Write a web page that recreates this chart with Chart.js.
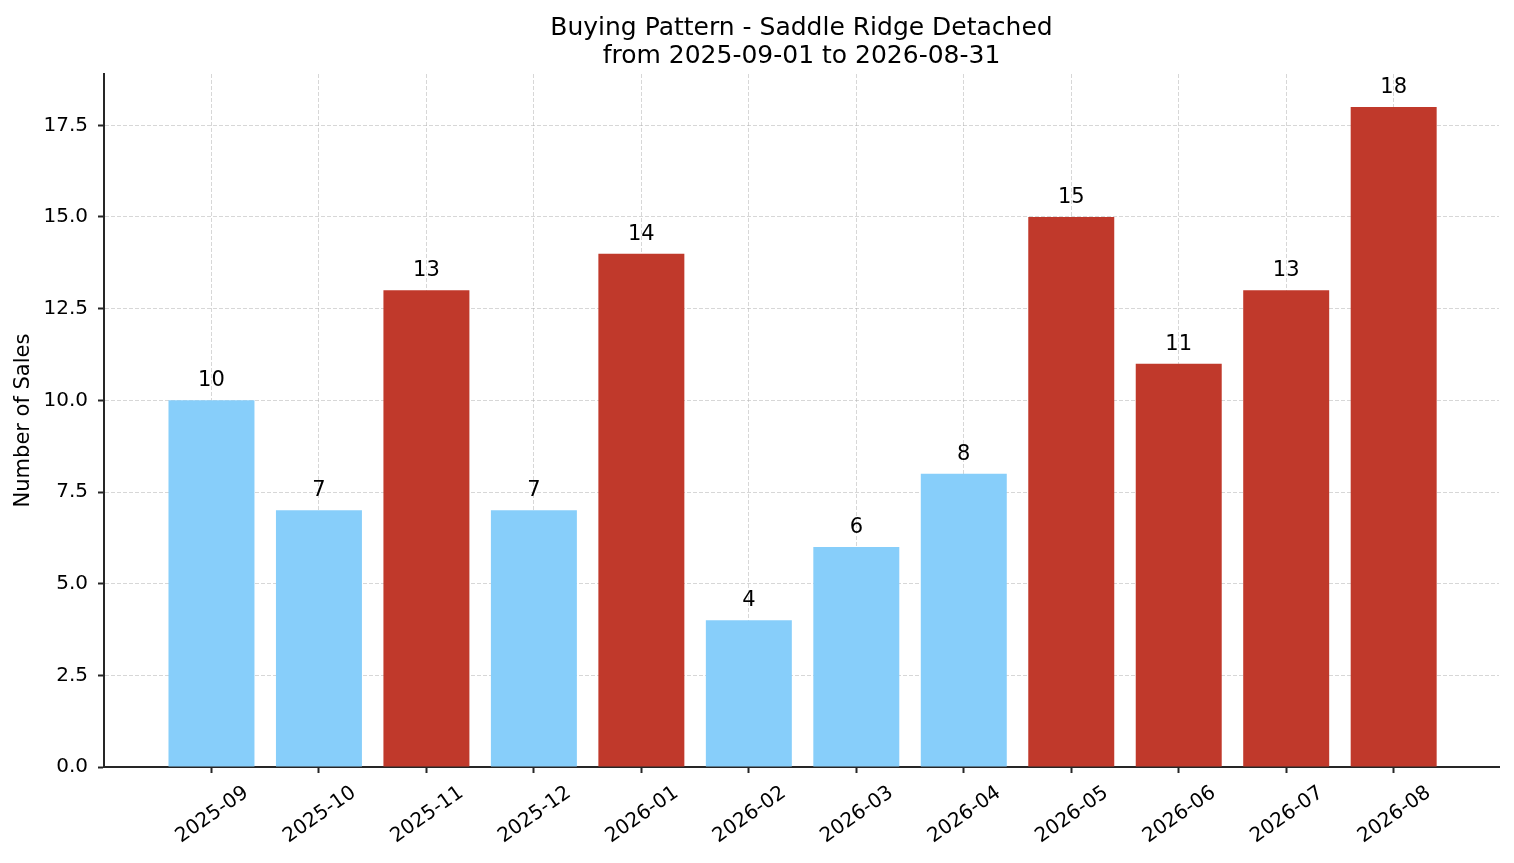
<!DOCTYPE html>
<html>
<head>
<meta charset="utf-8">
<script src="https://cdn.jsdelivr.net/npm/chart.js@4"></script>
<style>
  html, body { margin: 0; padding: 0; background: #fff; }
  .chart-container { position: relative; width: 1514px; height: 863px; }
</style>
</head>
<body>
<div class="chart-container">
  <canvas id="buyingChart"></canvas>
</div>
<script>
  // data
  const months = ["2025-09", "2025-10", "2025-11", "2025-12", "2026-01", "2026-02",
                  "2026-03", "2026-04", "2026-05", "2026-06", "2026-07", "2026-08"];
  const sales = [10, 7, 13, 7, 14, 4, 6, 8, 15, 11, 13, 18];
  const yTicks = [0, 2.5, 5, 7.5, 10, 12.5, 15, 17.5];
  const titleLines = ["Buying Pattern - Saddle Ridge Detached", "from 2025-09-01 to 2026-08-31"];
  const yLabel = "Number of Sales";

  const HIGH = "#C0392B";
  const LOW = "#87CEFA";
  const AXIS = "#262626";
  const FONT = "'DejaVu Sans', sans-serif";

  const mean = sales.reduce((a, b) => a + b, 0) / sales.length;

  // value labels on top of each bar
  const barLabels = {
    id: "barLabels",
    afterDraw(chart) {
      const ctx = chart.ctx;
      const meta = chart.getDatasetMeta(0);
      ctx.save();
      ctx.font = "21px " + FONT;
      ctx.fillStyle = "#000";
      ctx.textAlign = "center";
      ctx.textBaseline = "alphabetic";
      meta.data.forEach((bar, i) => {
        ctx.fillText(String(sales[i]), bar.x, bar.y - 14);
      });
      ctx.restore();
    },
  };

  const ctx = document.getElementById("buyingChart").getContext("2d");
  const myChart = new Chart(ctx, {
    type: "bar",
    data: {
      datasets: [
        {
          data: sales.map((v, i) => ({ x: i, y: v })),
          backgroundColor: sales.map((v) => (v > mean ? HIGH : LOW)),
          borderWidth: 0,
          barPercentage: 0.8,
          categoryPercentage: 1.0,
        },
      ],
    },
    options: {
      responsive: true,
      maintainAspectRatio: false,
      animation: false,
      layout: { padding: { left: 0, right: 15, top: 0, bottom: 0 } },
      plugins: {
        legend: { display: false },
        tooltip: { enabled: false },
        title: {
          display: true,
          text: titleLines,
          fullSize: false,
          color: "#000",
          font: { family: FONT, size: 25, weight: "normal", lineHeight: 1.12 },
          padding: { top: 14, bottom: 4 },
        },
      },
      scales: {
        x: {
          type: "linear",
          min: -1.0,
          max: 11.98,
          offset: false,
          z: 1,
          afterBuildTicks: (scale) => {
            scale.ticks = months.map((m, i) => ({ value: i }));
          },
          afterFit: (scale) => {
            scale.height = 96;
          },
          ticks: {
            autoSkip: false,
            minRotation: 35,
            maxRotation: 35,
            labelOffset: 35,
            padding: 8,
            color: "#000",
            font: { family: FONT, size: 20 },
            callback: (v) => months[v],
          },
          grid: {
            offset: false,
            color: "rgba(176,176,176,0.5)",
            lineWidth: 1,
            tickColor: AXIS,
            tickWidth: 2,
            tickLength: 6,
          },
          border: { display: true, color: AXIS, width: 2, dash: [4, 2] },
        },
        y: {
          min: 0,
          max: 18.9,
          z: 1,
          afterBuildTicks: (scale) => {
            scale.ticks = yTicks.map((v) => ({ value: v }));
          },
          afterFit: (scale) => {
            scale.width = 104;
          },
          ticks: {
            padding: 10,
            color: "#000",
            font: { family: FONT, size: 20 },
            callback: (v) => Number(v).toFixed(1),
          },
          grid: {
            color: "rgba(176,176,176,0.5)",
            lineWidth: 1,
            tickColor: AXIS,
            tickWidth: 2,
            tickLength: 6,
          },
          border: { display: true, color: AXIS, width: 2, dash: [4, 2] },
          title: {
            display: true,
            text: yLabel,
            color: "#000",
            font: { family: FONT, size: 21 },
            padding: { top: 11, bottom: 0 },
          },
        },
      },
    },
    plugins: [barLabels],
  });
</script>
</body>
</html>
